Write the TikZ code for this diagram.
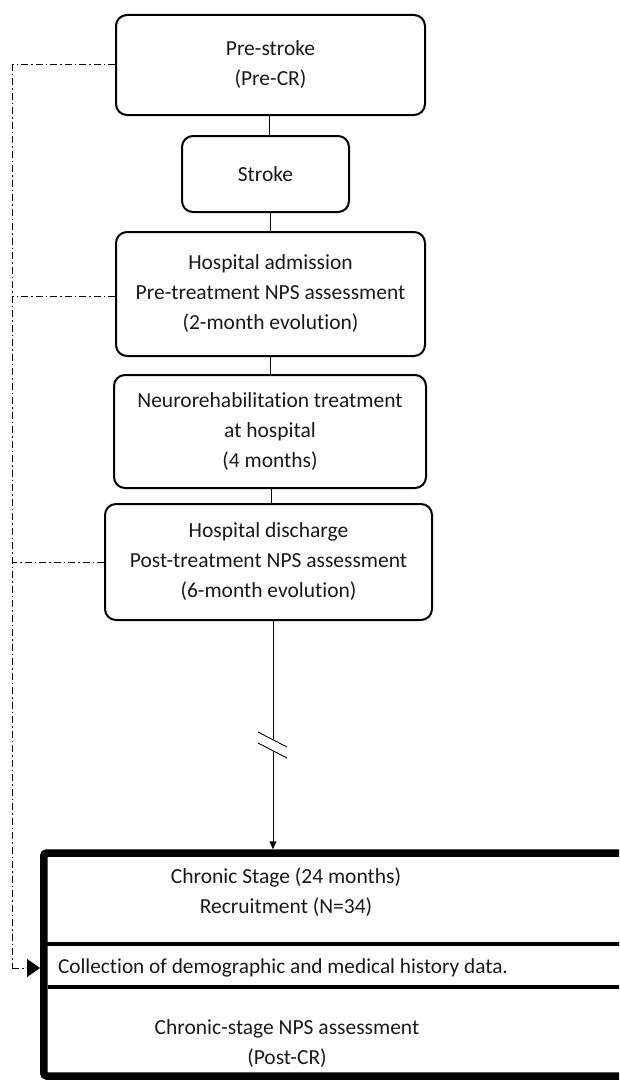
\documentclass[tikz,border=0pt]{standalone}
\usepackage{fontspec}
\setmainfont{Carlito}[Ligatures=NoCommon]
\usetikzlibrary{arrows.meta}
\begin{document}
\begin{tikzpicture}[x=1pt,y=-1pt,
  every node/.style={font=\fontsize{21.5}{30}\selectfont, text=black!90},
  stage/.style={draw=black, line width=2pt, rounded corners=11pt, align=center, inner sep=0pt},
  link/.style={draw=black, line width=1pt},
  dd/.style={draw=black, line width=1pt, dash pattern=on 7pt off 3pt on 1.5pt off 3pt},
  txt/.style={align=center, inner sep=0pt}]
\useasboundingbox (0,0) rectangle (619,1081);
\clip (0,0) rectangle (619,1081);

\node[stage, minimum width=309pt, minimum height=100pt] (b1) at (270.5,65) {Pre-stroke\\(Pre-CR)};
\node[stage, minimum width=167pt, minimum height=76pt] (b2) at (265.5,174) {Stroke};
\node[stage, minimum width=309pt, minimum height=124pt] (b3) at (270.5,294) {Hospital admission\\Pre-treatment NPS assessment\\(2-month evolution)};
\node[stage, minimum width=312pt, minimum height=113pt] (b4) at (270,431.5) {Neurorehabilitation treatment\\at hospital\\(4 months)};
\node[stage, minimum width=327pt, minimum height=116pt] (b5) at (268.5,562) {Hospital discharge\\Post-treatment NPS assessment\\(6-month evolution)};

% chronic stage frame
\node[draw=black, line width=7.5pt, rounded corners=3pt, minimum width=596pt, minimum height=223pt, inner sep=0pt] (big) at (341.75,964.5) {};
\node[txt] (t1) at (286,892) {Chronic Stage (24 months)\\Recruitment (N=34)};
\node[txt, font=\fontsize{21.3}{30}\selectfont] (coll) at (283,968) {Collection of demographic and medical history data.};
\node[txt] (t3) at (287,1044) {Chronic-stage NPS assessment\\(Post-CR)};
\draw[line width=4pt] (big.west |- 0,943.5) ++(4pt,0) coordinate (d1) -- (d1 -| big.east);
\draw[line width=3.5pt] (48,987) coordinate (d2) -- (d2 -| big.east);

% connectors
\draw[link] (b1.south -| 269,0) -- (b2.north -| 269,0);
\draw[link] (b2.south -| 270,0) -- (b3.north -| 270,0);
\draw[link] (b3.south -| 270,0) -- (b4.north -| 270,0);
\draw[link] (b4.south -| 271,0) -- (b5.north -| 271,0);
\coordinate (brk1) at (273,740);
\coordinate (brk2) at (273,751);
\draw[link] (b5.south -| brk1) -- (brk1);
\draw[link, -{Triangle[length=8pt,width=7pt]}] (brk2) -- (brk2 |- big.north);
\draw[line width=0.9pt] (258,732) -- (287,747);
\draw[line width=0.9pt] (258,743) -- (287,758);

% dash-dot feedback lines
\coordinate (L) at (12,0);
\draw[dd] (b1.west) -- (b1.west -| L) -- (L |- coll);
\draw[dd] (b3.west |- 0,296) -- (L |- 0,296);
\draw[dd] (b5.west) -- (b5.west -| L);
\draw[dd, -{Triangle[length=13pt,width=18pt]}] (L |- coll) -- (big.west |- coll);
\end{tikzpicture}
\end{document}
